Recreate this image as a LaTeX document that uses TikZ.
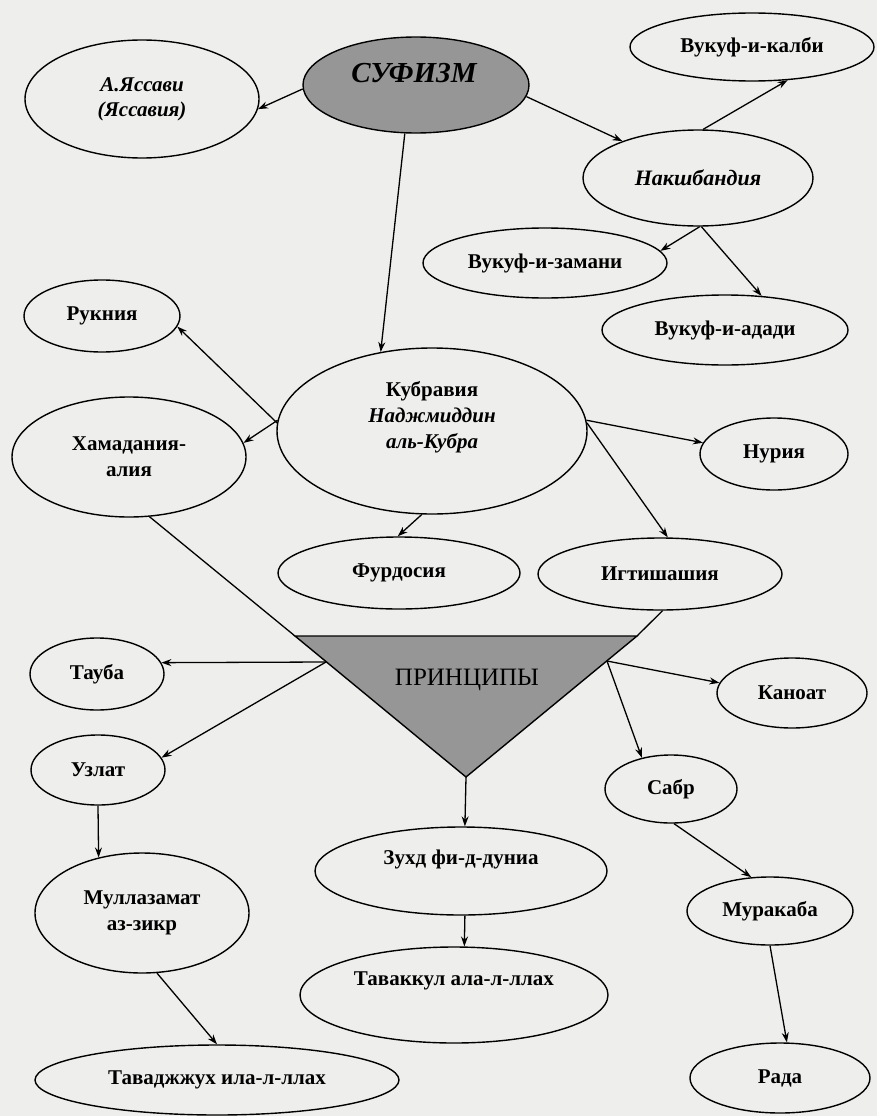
\documentclass[tikz,border=0pt]{standalone}
\usepackage{fontspec}
\setmainfont{Liberation Serif}
\usetikzlibrary{shapes.geometric,arrows.meta}
\definecolor{bgc}{RGB}{238,238,236}
\definecolor{darkfill}{RGB}{150,150,150}
\tikzset{
  el/.style n args={2}{ellipse, draw, line width=1.4pt, minimum width=#1pt, minimum height=#2pt, inner sep=0pt, align=center, font=\fontsize{21}{26}\selectfont\bfseries},
  txt/.style={inner sep=0pt, align=center, font=\fontsize{21}{26}\selectfont\bfseries},
  arr/.style={line width=1.3pt, -{Stealth[length=10pt,width=7pt]}},
  ln/.style={line width=1.3pt}
}
\begin{document}
\begin{tikzpicture}[x=1pt,y=-1pt]
\fill[bgc] (0,0) rectangle (877,1116);
\useasboundingbox (0,0) rectangle (877,1116);

% top
\node[el={226}{96}, fill=darkfill] (suf) at (416,85) {};
\node[txt, font=\fontsize{29}{30}\selectfont\bfseries\itshape] (suft) at (414,73) {СУФИЗМ};
\node[el={234}{118}, font=\fontsize{21}{25}\selectfont\bfseries\itshape] (yas) at (142,99) {А.Яссави\\(Яссавия)};
\node[el={244}{68}] (kal) at (752,47) {Вукуф-и-калби};
\node[el={230}{96}, font=\fontsize{22}{26}\selectfont\bfseries\itshape] (nak) at (698,178) {Накшбандия};
\node[el={244}{70}] (zam) at (545,263) {Вукуф-и-замани};
\node[el={246}{70}] (ada) at (725,330) {Вукуф-и-адади};

% middle
\node[el={156}{72}] (ruk) at (102,316) {Рукния};
\node[el={234}{120}] (ham) at (129,457) {Хамадания-\\алия};
\node[el={310}{166}] (kub) at (432,431) {};
\node[txt] (kubt) at (432,417) {Кубравия\\\itshape Наджмиддин\\\itshape аль-Кубра};
\node[el={148}{72}] (nur) at (774,454) {Нурия};
\node[el={244}{72}] (igt) at (660,574) {Игтишашия};
\node[el={242}{72}] (fur) at (399,573) {Фурдосия};

% triangle
\coordinate (tl) at (295,636);
\coordinate (tr) at (637,636);
\coordinate (tb) at (466,777);
\coordinate (tL) at (326,662);
\coordinate (tR) at (607,661);
\filldraw[fill=darkfill, line width=1.4pt] (tl) -- (tr) -- (tb) -- cycle;
\node[inner sep=0pt, font=\fontsize{25}{27}\selectfont] (prin) at (467,680) {ПРИНЦИПЫ};

% bottom left
\node[el={134}{72}] (tau) at (97,674) {Тауба};
\node[el={134}{70}] (uzl) at (98,770) {Узлат};
\node[el={214}{120}] (mul) at (142,913) {Муллазамат\\аз-зикр};
\node[el={364}{70}] (tdj) at (217,1080) {Таваджжух ила-л-ллах};

% bottom middle
\node[el={292}{88}] (zuh) at (461,871) {};
\node[txt] (zuht) at (461,859) {Зухд фи-д-дуниа};
\node[el={308}{96}] (tav) at (454,995) {};
\node[txt] (tavt) at (454,981) {Таваккул ала-л-ллах};

% bottom right
\node[el={150}{70}] (kan) at (792,693) {Каноат};
\node[el={132}{68}] (sab) at (671,789) {Сабр};
\node[el={166}{68}] (mur) at (770,911) {Муракаба};
\node[el={180}{70}] (rad) at (780,1078) {Рада};

% connectors
\draw[arr] (suf.182) -- (yas.-5);
\draw[arr] (suf.-6) -- (nak.154);
\draw[arr] (nak.84) -- (kal.-43);
\draw[arr] (nak.-88) -- (zam.6);
\draw[arr] (nak.-86) -- (ada.43);
\draw[arr] (suf.-103) -- (kub.123);
\draw[arr] (kub.177) -- (ruk.-8);
\draw[arr] (kub.176) -- (ham.7);
\draw[arr] (kub.4) -- (nur.171);
\draw[arr] (kub.3) -- (igt.78);
\draw[arr] (kub.-97) -- (fur.92);
\draw[ln] (ham.-71) -- (tl);
\draw[ln] (igt.-86) -- (tr);
\draw[arr] (tL) -- (tau.10);
\draw[arr] (tL) -- (uzl.11);
\draw[arr] (tR) -- (kan.172);
\draw[arr] (tR) -- (sab.133);
\draw[arr] (tb) -- (zuh.85);
\draw[arr] (zuh.-85) -- (tav.78);
\draw[arr] (uzl.-90) -- (mul.128);
\draw[arr] (mul.-76) -- (tdj.90);
\draw[arr] (sab.-85) -- (mur.119);
\draw[arr] (mur.-90) -- (rad.79);
\end{tikzpicture}
\end{document}
